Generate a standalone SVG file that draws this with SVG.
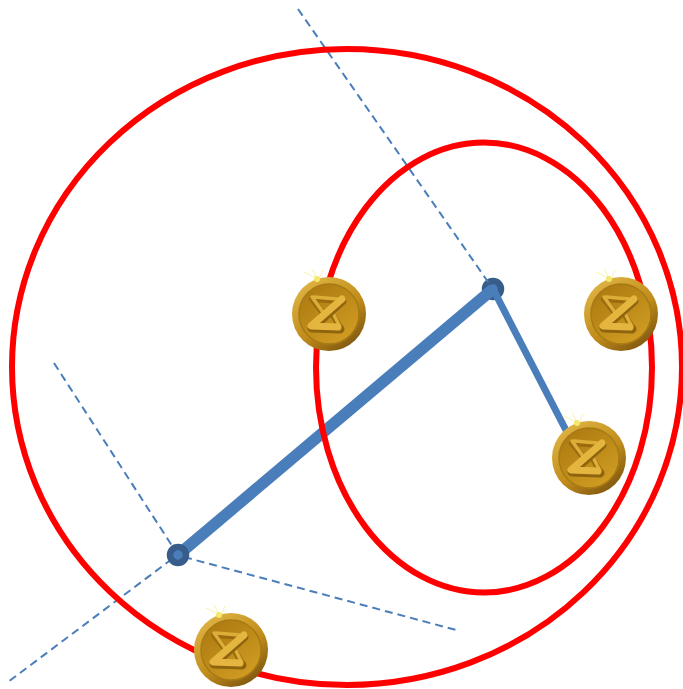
<svg xmlns="http://www.w3.org/2000/svg" width="683" height="689" viewBox="0 0 683 689">
<style>
.orbit{fill:none;stroke:#ff0000;stroke-width:6}
.dash{fill:none;stroke:#4a7ebb;stroke-width:2;stroke-dasharray:8 5}
.bar{stroke:#4a7ebb;fill:none}
.pin{fill:#4a7ebb;stroke:#385d8a;stroke-width:6.5}
</style>
<defs>
<linearGradient id="gold" x1="0.2" y1="0.1" x2="0.8" y2="0.95">
<stop offset="0" stop-color="#dcb040"/><stop offset="0.55" stop-color="#c08c1a"/><stop offset="1" stop-color="#7f5710"/>
</linearGradient>
<linearGradient id="face" x1="0.2" y1="0.1" x2="0.8" y2="0.95">
<stop offset="0" stop-color="#ae7c12"/><stop offset="1" stop-color="#d09c22"/>
</linearGradient>
<g id="coin">
<circle r="37" fill="url(#gold)"/>
<circle r="30" fill="url(#face)" stroke="#a87a14" stroke-width="1.5"/>
<path d="M-17-15-3 3M5 3 12 15M-15-15 11-13" fill="none" stroke="#9a6c0e" stroke-width="6" stroke-linecap="round"/>
<path d="M-17-17-4 1M5 1 11 13M-15-17 8-15" fill="none" stroke="#dcae38" stroke-width="3.5" stroke-linecap="round"/>
<path d="M13-13-17 14 11 15" fill="none" stroke="#8f640e" stroke-width="9" stroke-linejoin="round" stroke-linecap="round"/>
<path d="M13-15-18 12 9 13" fill="none" stroke="#e4b640" stroke-width="7" stroke-linejoin="round" stroke-linecap="round"/>
<path d="M-25-42-13-36M-17-45-12-36M-6-44-10-35" stroke="#f8f2b0" stroke-width="1" fill="none"/>
<circle cx="-12" cy="-35" r="3" fill="#f4e86e"/>
</g>
</defs>
<g id="pin-b"><circle class="pin" cx="493" cy="289" r="8"/></g>
<g id="connectors">
<path class="dash" d="M298 9 493 289"/>
<path class="dash" d="M54 363 178 555"/>
<path class="dash" d="M172 559 8 682"/>
<path class="dash" d="M184 557 456 630"/>
<path class="bar" stroke-width="11.5" d="M178 555 493 289"/>
<path class="bar" stroke-width="7" d="M493 289 570 438"/>
</g>
<g id="orbit-outer"><ellipse class="orbit" cx="347" cy="367" rx="335" ry="318"/></g>
<g id="orbit-inner"><ellipse class="orbit" cx="484" cy="367.5" rx="168" ry="225"/></g>
<g id="pin-a"><circle class="pin" cx="178" cy="555" r="8"/></g>
<g id="coin-1"><use href="#coin" x="329" y="314"/></g>
<g id="coin-2"><use href="#coin" x="621" y="314"/></g>
<g id="coin-3"><use href="#coin" x="589" y="458"/></g>
<g id="coin-4"><use href="#coin" x="231" y="650"/></g>
</svg>
